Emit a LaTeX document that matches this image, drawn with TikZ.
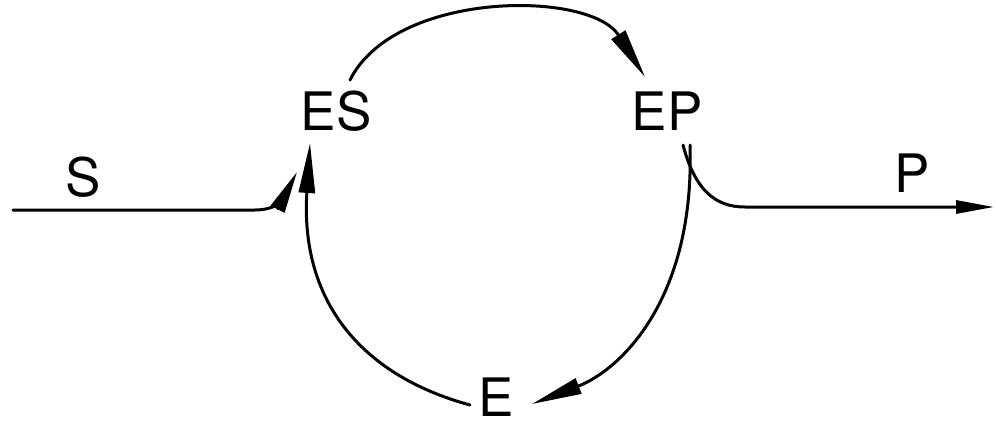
\documentclass[tikz,border=0pt]{standalone}
\usepackage{fontspec}
\setmainfont{TeX Gyre Heros}
\usetikzlibrary{arrows.meta,calc}
\begin{document}
\begin{tikzpicture}[x=1pt,y=-1pt,
  lbl/.style={inner sep=0pt, font=\fontsize{53}{53}\selectfont},
  conn/.style={line width=3pt, line cap=round, -{Triangle[length=50pt,width=16pt]}}]
\useasboundingbox (0,0) rectangle (996,426);
\node[lbl] (ES) at (336,111) {ES};
\node[lbl] (EP) at (667,111) {EP};
\node[lbl] (E) at (496,397) {E};
\node[lbl] (S) at (83,177) {S};
\node[lbl] (P) at (912,173) {P};
\coordinate (Sin) at (13,210);
\coordinate (Pout) at (994,207);
% top arc ES -> EP
\draw[conn] ($(ES.center)+(14,-31)$) .. controls +(45,-90) and +(-55,-87) .. ($(EP.center)+(-22,-34)$);
% S input
\draw[conn,-{Triangle[length=42pt,width=15pt]}] (Sin) -- ++(242,0) .. controls +(25,0) and +(-12,23) .. ($(ES.center)+(-39,61)$);
% left arc E -> ES
\draw[conn] ($(E.center)+(-26,8)$) .. controls +(-110,-30) and +(-10,157) .. ($(ES.center)+(-26,32)$);
% right arc EP -> E
\draw[conn] ($(EP.center)+(23,34)$) .. controls +(5,155) and +(88,-34) .. ($(E.center)+(36,7)$);
% P output
\draw[conn,-{Triangle[length=38pt,width=13pt]}] ($(EP.center)+(16,34)$) .. controls +(12,45) and +(-30,0) .. ++(62,62) -- (Pout);
\end{tikzpicture}
\end{document}
